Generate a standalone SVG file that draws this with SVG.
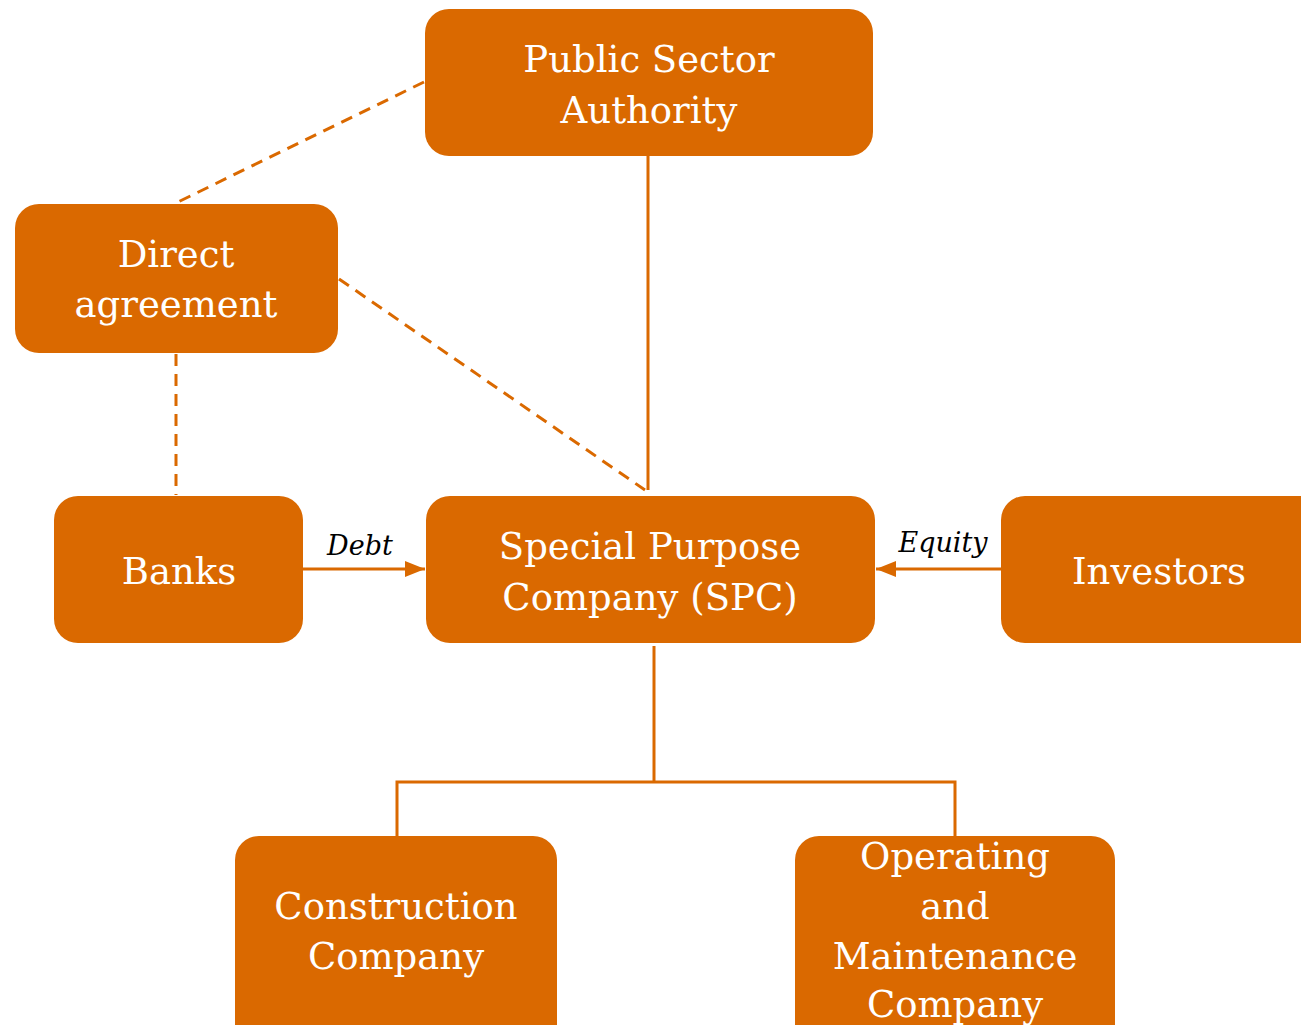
<svg xmlns="http://www.w3.org/2000/svg" width="1301" height="1025" viewBox="0 0 1301 1025">
  <style>
    .box { fill: #DA6900; }
    .lbl { font-family: "DejaVu Serif", "Liberation Serif", serif; font-size: 37px; fill: #ffffff; text-anchor: middle; }
    .edge { font-family: "DejaVu Serif", "Liberation Serif", serif; font-size: 27px; font-style: italic; fill: #000000; text-anchor: middle; }
    .solid { stroke: #DA6900; stroke-width: 3; fill: none; }
    .dash { stroke: #DA6900; stroke-width: 3; fill: none; stroke-dasharray: 12 8; }
  </style>
  <defs>
    <marker id="arrowhead" viewBox="0 0 20 16" refX="20" refY="8" markerWidth="20" markerHeight="16" markerUnits="userSpaceOnUse" orient="auto">
      <path d="M0,0 L20,8 L0,16 z" fill="#DA6900"/>
    </marker>
  </defs>
  <rect width="1301" height="1025" fill="#ffffff"/>

  <g id="connectors">
    <line class="solid" x1="648" y1="156" x2="648" y2="490"/>
    <line class="dash" x1="424" y1="82" x2="176" y2="203"/>
    <line class="dash" x1="339" y1="279" x2="645" y2="490"/>
    <line class="dash" x1="176" y1="354" x2="176" y2="495"/>
    <line class="solid" x1="303" y1="569" x2="425" y2="569" marker-end="url(#arrowhead)"/>
    <line class="solid" x1="1001" y1="569" x2="876" y2="569" marker-end="url(#arrowhead)"/>
    <polyline class="solid" points="654,646 654,782"/>
    <polyline class="solid" points="397,836 397,782 955,782 955,836"/>
    <text class="edge" x="360" y="555">Debt</text>
    <text class="edge" x="943" y="552">Equity</text>
  </g>

  <g id="public-sector-authority">
    <rect class="box" x="425" y="9" width="448" height="147" rx="24"/>
    <text class="lbl" x="649" y="72">Public Sector</text>
    <text class="lbl" x="649" y="123">Authority</text>
  </g>

  <g id="direct-agreement">
    <rect class="box" x="15" y="204" width="323" height="149" rx="24"/>
    <text class="lbl" x="176" y="267">Direct</text>
    <text class="lbl" x="176" y="317">agreement</text>
  </g>

  <g id="banks">
    <rect class="box" x="54" y="496" width="249" height="147" rx="24"/>
    <text class="lbl" x="179" y="584">Banks</text>
  </g>

  <g id="spc">
    <rect class="box" x="426" y="496" width="449" height="147" rx="24"/>
    <text class="lbl" x="650" y="559">Special Purpose</text>
    <text class="lbl" x="650" y="610">Company (SPC)</text>
  </g>

  <g id="investors">
    <rect class="box" x="1001" y="496" width="330" height="147" rx="24"/>
    <text class="lbl" x="1159" y="584">Investors</text>
  </g>

  <g id="construction-company">
    <rect class="box" x="235" y="836" width="322" height="220" rx="24"/>
    <text class="lbl" x="396" y="919">Construction</text>
    <text class="lbl" x="396" y="969">Company</text>
  </g>

  <g id="om-company">
    <rect class="box" x="795" y="836" width="320" height="220" rx="24"/>
    <text class="lbl" x="955" y="869">Operating</text>
    <text class="lbl" x="955" y="919">and</text>
    <text class="lbl" x="955" y="969">Maintenance</text>
    <text class="lbl" x="955" y="1017">Company</text>
  </g>
</svg>
